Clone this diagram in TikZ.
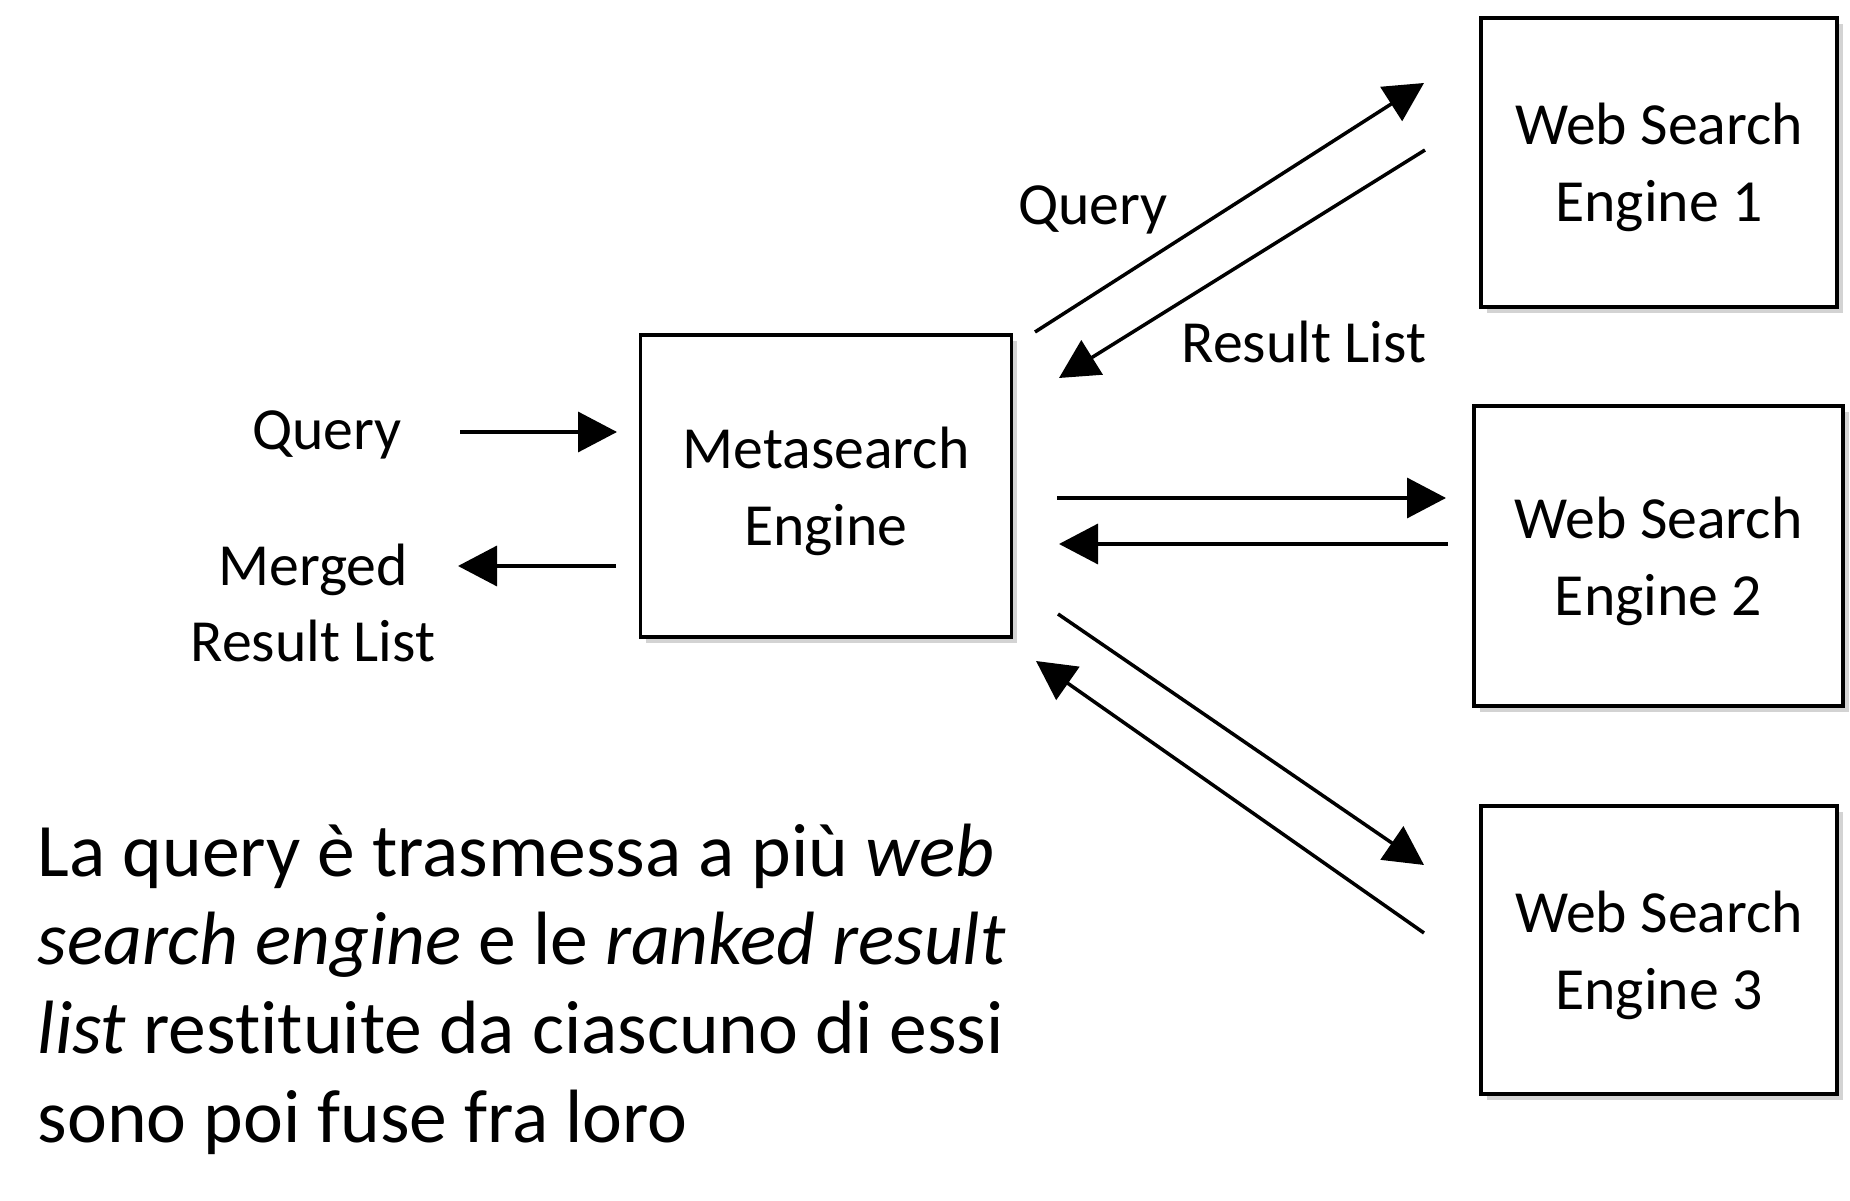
\documentclass[tikz,border=0pt]{standalone}
\usepackage{fontspec}
\setmainfont{Carlito}[Ligatures=NoCommon]
\usetikzlibrary{arrows.meta,shadows,positioning}

\tikzset{
  enginebox/.style={draw, line width=1.05pt, fill=white, align=center, text depth=0pt,
    font=\fontsize{17}{21.8}\selectfont,
    drop shadow={shadow xshift=1.6pt, shadow yshift=-1.6pt, fill=black!50, opacity=0.35}},
  flow/.style={->, line width=1pt},
  lbl/.style={font=\fontsize{17}{21.5}\selectfont, align=center, inner sep=0pt}
}

\begin{document}
\begin{tikzpicture}[>={Triangle[length=3.9mm,width=4mm]}]
            \useasboundingbox (0,0) rectangle (18.5,12);
            % boxes
            \node[enginebox, minimum width=3.71cm, minimum height=3.02cm] (meta) at (8.26,7.14) {Metasearch\\Engine};
            \node[enginebox, minimum width=3.56cm, minimum height=2.89cm] (wse1) at (16.59,10.375) {Web Search\\Engine 1};
            \node[enginebox, minimum width=3.69cm, minimum height=3.00cm] (wse2) at (16.585,6.44) {Web Search\\Engine 2};
            \node[enginebox, minimum width=3.56cm, minimum height=2.88cm] (wse3) at (16.59,2.50) {Web Search\\Engine 3};
            % labels
            \node[lbl] (qin)  at (3.27,7.65)  {Query};
            \node[lbl] (mrl)  at (3.13,5.97)  {Merged\\Result List};
            \node[lbl] (qup)  at (10.93,9.90) {Query};
            \node[lbl] (rlup) at (13.04,8.58) {Result List};
            % arrow ends
            \coordinate (qin s) at (4.60,7.68);   \coordinate (qin e) at (6.17,7.68);
            \coordinate (mrl s) at (6.16,6.34);   \coordinate (mrl e) at (4.58,6.34);
            \coordinate (to1 s) at (10.35,8.68);  \coordinate (to1 e) at (14.24,11.17);
            \coordinate (fr1 s) at (14.25,10.50); \coordinate (fr1 e) at (10.59,8.22);
            \coordinate (to2 s) at (10.57,7.02);  \coordinate (to2 e) at (14.46,7.02);
            \coordinate (fr2 s) at (14.48,6.56);  \coordinate (fr2 e) at (10.59,6.56);
            \coordinate (to3 s) at (10.58,5.86);  \coordinate (to3 e) at (14.24,3.35);
            \coordinate (fr3 s) at (14.24,2.67);  \coordinate (fr3 e) at (10.36,5.39);
            % arrows
            \draw[flow] (qin s) -- (qin e);
            \draw[flow] (mrl s) -- (mrl e);
            \draw[flow] (to1 s) -- (to1 e);
            \draw[flow] (fr1 s) -- (fr1 e);
            \draw[flow] (to2 s) -- (to2 e);
            \draw[flow] (fr2 s) -- (fr2 e);
            \draw[flow] (to3 s) -- (to3 e);
            \draw[flow] (fr3 s) -- (fr3 e);
            % caption
            \node[anchor=base west, inner sep=0pt, align=left,
                  font=\fontsize{21.5}{25.2}\selectfont] (note) at (0.37,0.58)
              {La query è trasmessa a più \textit{web}\\
               \textit{search engine} e le \textit{ranked result}\\
               \textit{list} restituite da ciascuno di essi\\
               sono poi fuse fra loro};
          \end{tikzpicture}
\end{document}
